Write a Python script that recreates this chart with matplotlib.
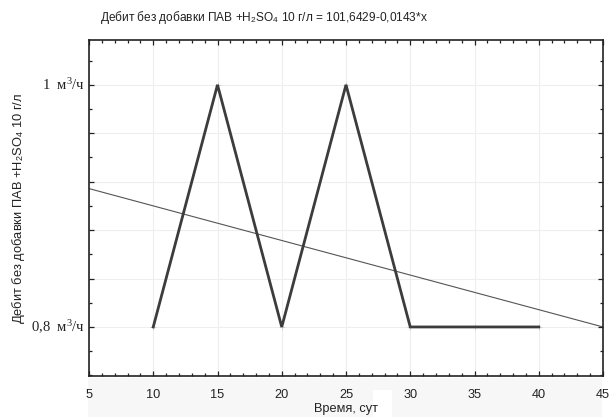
import numpy as np
import matplotlib
matplotlib.use("Agg")
import matplotlib.pyplot as plt
from matplotlib.ticker import MultipleLocator, FixedLocator
from matplotlib.patches import Rectangle

days = [10, 15, 20, 25, 30, 35, 40]
flow = [0.8, 1.0, 0.8, 1.0, 0.8, 0.8, 0.8]
ytick_vals = [0.8, 1.0]
ytick_labels = ["0,8  м$^3$/ч", "1  м$^3$/ч"]
title = "Дебит без добавки ПАВ +H$_\\mathsf{2}$SO$_\\mathsf{4}$ 10 г/л = 101,6429-0,0143*x"
ylab = "Дебит без добавки ПАВ +H$_\\mathsf{2}$SO$_\\mathsf{4}$ 10 г/л"
xlab = "Время, сут"

plt.rcParams['font.family'] = ['Liberation Sans', 'DejaVu Sans']
plt.rcParams['mathtext.fontset'] = 'custom'
plt.rcParams['mathtext.rm'] = 'Liberation Serif'
plt.rcParams['mathtext.it'] = 'Liberation Serif'
plt.rcParams['mathtext.sf'] = 'Liberation Sans'

fig = plt.figure(figsize=(6.13, 4.17), dpi=100)
# light gray band behind x tick labels
fig.patches.append(Rectangle((88/613, 0), (602-88)/613, (417-378)/417,
                             transform=fig.transFigure, facecolor='#f7f7f7',
                             edgecolor='none', zorder=-2))
fig.patches.append(Rectangle((373/613, 0), (392-373)/613, (417-390)/417,
                             transform=fig.transFigure, facecolor='white',
                             edgecolor='none', zorder=-1))

ax = fig.add_axes([89/613, 41/417, (603-89)/613, (376-40)/417])
ax.set_zorder(1)
ax.set_xlim(5, 45)
ax.set_ylim(0.7595, 1.037)

ax.xaxis.set_major_locator(MultipleLocator(5))
ax.xaxis.set_minor_locator(MultipleLocator(1))
ax.yaxis.set_major_locator(FixedLocator(np.arange(0.8, 1.0001, 0.04)))
ax.yaxis.set_minor_locator(FixedLocator(np.arange(0.76, 1.04, 0.02)))
ax.grid(True, which='major', color='#eeeeee', linewidth=0.8)

ax.tick_params(which='both', direction='in', top=True, right=True,
               color='#222222', width=0.9)
ax.tick_params(which='major', length=3.5)
ax.tick_params(which='minor', length=2.5)
ax.tick_params(axis='x', labelsize=9.2, pad=9, labelcolor='#222222')
for s in ax.spines.values():
    s.set_color('#222222')
    s.set_linewidth(1.2)

# y labels only at 0.8 and 1
ax.set_yticklabels([])
for v, lab in zip(ytick_vals, ytick_labels):
    ax.text(-0.008, v, lab, transform=ax.get_yaxis_transform(), ha='right',
            va='center', fontsize=10.6, family='Liberation Serif', color='#222222')

ax.plot(days, flow, color='#3c3c3c', linewidth=2.0, solid_joinstyle='miter', zorder=3)
ax.plot(days, flow, linestyle='none', marker='+', markersize=4,
        color='#cccccc', markeredgewidth=0.6, zorder=2)

k, b = np.polyfit(days, flow, 1)
xx = np.array([5, 45])
ax.plot(xx, k*xx + b, color='#555555', linewidth=0.8, zorder=2)

ax.set_xlabel(xlab, fontsize=9.2, labelpad=2, color='#222222')
ax.set_ylabel(ylab, fontsize=9.3, labelpad=41, color='#222222')
fig.text(264/613, 1 - 18/417, title, ha='center', va='center', fontsize=8.6,
         color='#222222')

fig.savefig("out.png", dpi=100)
